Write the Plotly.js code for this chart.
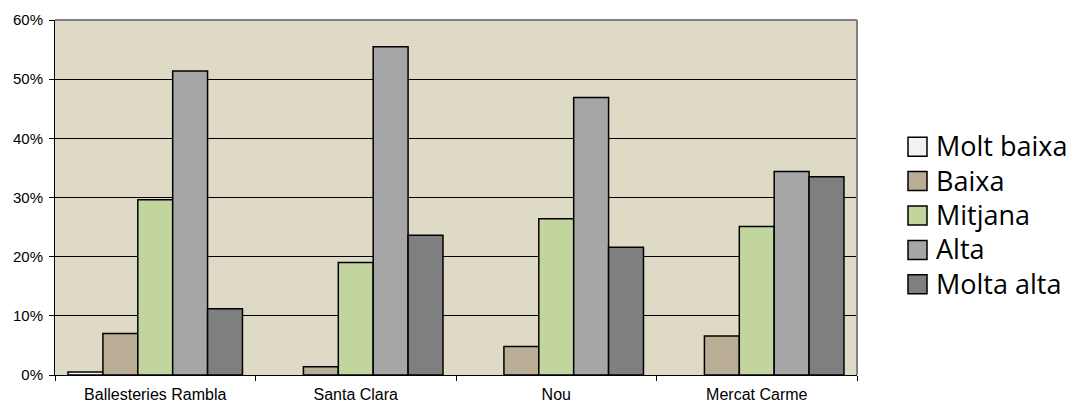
<!DOCTYPE html>
<html>
<head>
<meta charset="utf-8">
<script src="https://cdn.plot.ly/plotly-3.0.1.min.js"></script>
<style>html,body{margin:0;padding:0;background:#fff;}#chart{width:1077px;height:403px;}</style>
</head>
<body>
<div id="chart"></div>
<script>
const categories = ["Ballesteries Rambla", "Santa Clara", "Nou", "Mercat Carme"];
const seriesNames = ["Molt baixa", "Baixa", "Mitjana", "Alta", "Molta alta"];
const moltBaixa = [0.005, 0.0, 0.0, 0.0];
const baixa = [0.070, 0.014, 0.048, 0.066];
const mitjana = [0.296, 0.190, 0.264, 0.251];
const alta = [0.514, 0.555, 0.469, 0.344];
const moltaAlta = [0.112, 0.236, 0.216, 0.335];
const yTickVals = [0, 0.1, 0.2, 0.3, 0.4, 0.5, 0.6];
const yTickText = ["0%", "10%", "20%", "30%", "40%", "50%", "60%"];

const colors = ["#F2F2F2", "#B9AD95", "#C3D59E", "#A6A6A6", "#7F7F7F"];
const values = [moltBaixa, baixa, mitjana, alta, moltaAlta];

const W = 1077, H = 403;
const M = { l: 55, r: 220, t: 20, b: 28 };
const pw = W - M.l - M.r, ph = H - M.t - M.b;
const px2x = p => (p - M.l) / pw;
const py2y = p => (H - M.b - p) / ph;

const traces = values.map((v, i) => ({
  type: "bar",
  name: seriesNames[i],
  x: categories,
  y: v,
  showlegend: false,
  marker: { color: colors[i], line: { color: "#000000", width: v.map(d => d === 0 ? 0 : 1.5) } },
  hoverinfo: "skip"
}));

// custom legend (large square symbols like the original)
const shapes = [
  { type: "line", xref: "paper", yref: "paper", x0: 0, x1: 1, y0: 1, y1: 1, line: { color: "#808080", width: 2 } },
  { type: "line", xref: "paper", yref: "paper", x0: 1, x1: 1, y0: 0, y1: 1, line: { color: "#808080", width: 2 } }
];
const annotations = [];
const legTop = 146.7, legStep = 34.4, symL = 908, symSize = 19, textL = 934;
seriesNames.forEach((n, i) => {
  const cy = legTop + i * legStep;
  shapes.push({
    type: "rect", xref: "paper", yref: "paper",
    x0: px2x(symL), x1: px2x(symL + symSize),
    y0: py2y(cy + symSize / 2), y1: py2y(cy - symSize / 2),
    fillcolor: colors[i], line: { color: "#000", width: 1.5 }
  });
  annotations.push({
    xref: "paper", yref: "paper",
    x: px2x(textL), y: py2y(cy - 1),
    xanchor: "left", yanchor: "middle",
    text: n, showarrow: false,
    font: { family: "'Open Sans', Lato, sans-serif", size: 27, color: "#000" }
  });
});

const layout = {
  width: W, height: H,
  margin: M,
  paper_bgcolor: "#FFFFFF",
  plot_bgcolor: "#DEDAC6",
  barmode: "group",
  bargap: 0.13,
  bargroupgap: 0,
  font: { family: "Arial, 'Liberation Sans', sans-serif", size: 14, color: "#000" },
  xaxis: {
    type: "category",
    tickson: "boundaries",
    ticks: "outside", ticklen: 5, tickcolor: "#000", tickwidth: 1,
    showline: true, linecolor: "#000", linewidth: 1,
    showgrid: false, zeroline: false,
    tickfont: { size: 16, family: "Arial, 'Liberation Sans', sans-serif" },
    ticklabelstandoff: 5
  },
  yaxis: {
    range: [0, 0.6],
    tickvals: yTickVals, ticktext: yTickText,
    ticks: "outside", ticklen: 5, tickcolor: "#000", tickwidth: 1,
    showline: true, linecolor: "#000", linewidth: 1,
    showgrid: true, gridcolor: "#000", gridwidth: 1,
    zeroline: false,
    tickfont: { size: 15, family: "Arial, 'Liberation Sans', sans-serif" },
    ticklabelstandoff: 3
  },
  shapes: shapes,
  annotations: annotations,
  showlegend: false
};

Plotly.newPlot("chart", traces, layout, { staticPlot: true, displayModeBar: false });
</script>
</body>
</html>
